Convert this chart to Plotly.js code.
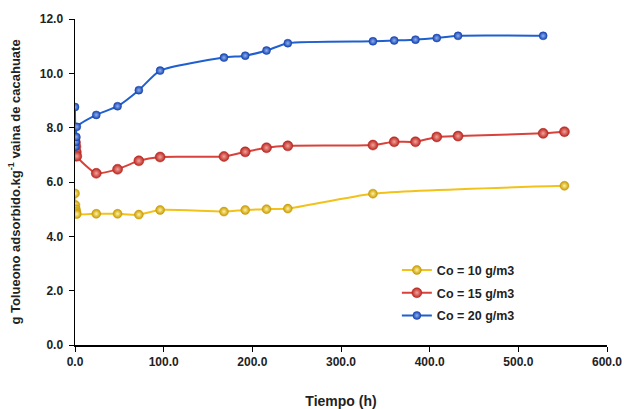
<!DOCTYPE html>
<html><head><meta charset="utf-8">
<script src="https://cdn.plot.ly/plotly-3.0.1.min.js"></script>
<style>html,body{margin:0;padding:0;background:#fff}#chart{width:624px;height:409px}</style>
</head><body><div id="chart"></div>
<script>
const t10 = [0, 0.5, 1, 1.5, 2, 24, 48, 72, 96, 168, 192, 216, 240, 336, 552];
const y10 = [5.58, 5.15, 5.0, 4.9, 4.82, 4.83, 4.83, 4.80, 4.97, 4.91, 4.97, 5.0, 5.02, 5.57, 5.86];
const t15 = [0, 0.5, 1, 1.5, 2, 24, 48, 72, 96, 168, 192, 216, 240, 336, 360, 384, 408, 432, 528, 552];
const y15 = [7.6, 7.45, 7.3, 7.1, 6.95, 6.32, 6.47, 6.78, 6.92, 6.94, 7.11, 7.26, 7.33, 7.36, 7.48, 7.48, 7.66, 7.69, 7.79, 7.85];
const t20 = [0, 0.5, 1, 1.5, 2, 24, 48, 72, 96, 168, 192, 216, 240, 336, 360, 384, 408, 432, 528];
const y20 = [8.76, 7.3, 7.48, 7.66, 8.03, 8.47, 8.79, 9.38, 10.1, 10.58, 10.65, 10.84, 11.11, 11.18, 11.21, 11.24, 11.3, 11.38, 11.38];
const names = ["Co = 10 g/m3", "Co = 15 g/m3", "Co = 20 g/m3"];
const xTicks = [0, 100, 200, 300, 400, 500, 600];
const yTicks = [0, 2, 4, 6, 8, 10, 12];

const FONT = "Liberation Sans, Arial, sans-serif";
function tr(x, y, name, grp, line, mcol, grad, size) {
  return {x: x, y: y, name: name, legendgroup: grp, type: 'scatter', mode: 'lines+markers',
    line: {color: line, width: 2, shape: 'spline', smoothing: 0.6},
    marker: {color: mcol, size: size, line: {color: mcol, width: 0.5}, gradient: {type: 'radial', color: grad}}};
}
const data = [
  tr(t10, y10, names[0], 'g1', '#f2c21b', '#c99a00', '#fff2a0', 9),
  tr(t15, y15, names[1], 'g2', '#d9423b', '#b8251f', '#f4a39a', 10),
  tr(t20, y20, names[2], 'g3', '#1f5fd0', '#1644b0', '#8fb0f0', 8)
];
const layout = {
  width: 624, height: 409,
  margin: {l: 74.5, r: 17, t: 18.5, b: 63.5},
  paper_bgcolor: '#fff', plot_bgcolor: '#fff',
  font: {family: FONT, color: '#222', size: 12},
  showlegend: true,
  legend: {x: 0.605, xanchor: 'left', y: 0.275, yanchor: 'top', bgcolor: 'rgba(0,0,0,0)', itemwidth: 30,
    font: {family: FONT, size: 12.5, color: '#222', weight: 'bold'}, tracegroupgap: 3.5, traceorder: 'grouped'},
  xaxis: {range: [0, 600], tickvals: xTicks, ticktext: xTicks.map(v => v.toFixed(1)),
    showgrid: false, zeroline: false, showline: true, linecolor: '#000', linewidth: 1.5,
    ticks: 'outside', ticklen: 5, tickcolor: '#000',
    tickfont: {family: FONT, size: 12, color: '#222', weight: 'bold'},
    title: {text: 'Tiempo (h)', font: {family: FONT, size: 14, color: '#222', weight: 'bold'}, standoff: 29}},
  yaxis: {range: [0, 12], tickvals: yTicks, ticktext: yTicks.map(v => v.toFixed(1)),
    showgrid: false, zeroline: false, showline: true, linecolor: '#000', linewidth: 1.5,
    ticks: 'outside', ticklen: 5, tickcolor: '#000', ticklabelstandoff: 3,
    tickfont: {family: FONT, size: 12, color: '#222', weight: 'bold'},
    title: {text: 'g Tolueono adsorbido.kg<sup>-1</sup> vaina de cacahuate', font: {family: FONT, size: 13, color: '#222', weight: 'bold'}, standoff: 16}}
};
Plotly.newPlot('chart', data, layout, {displayModeBar: false, staticPlot: true});
</script></body></html>
